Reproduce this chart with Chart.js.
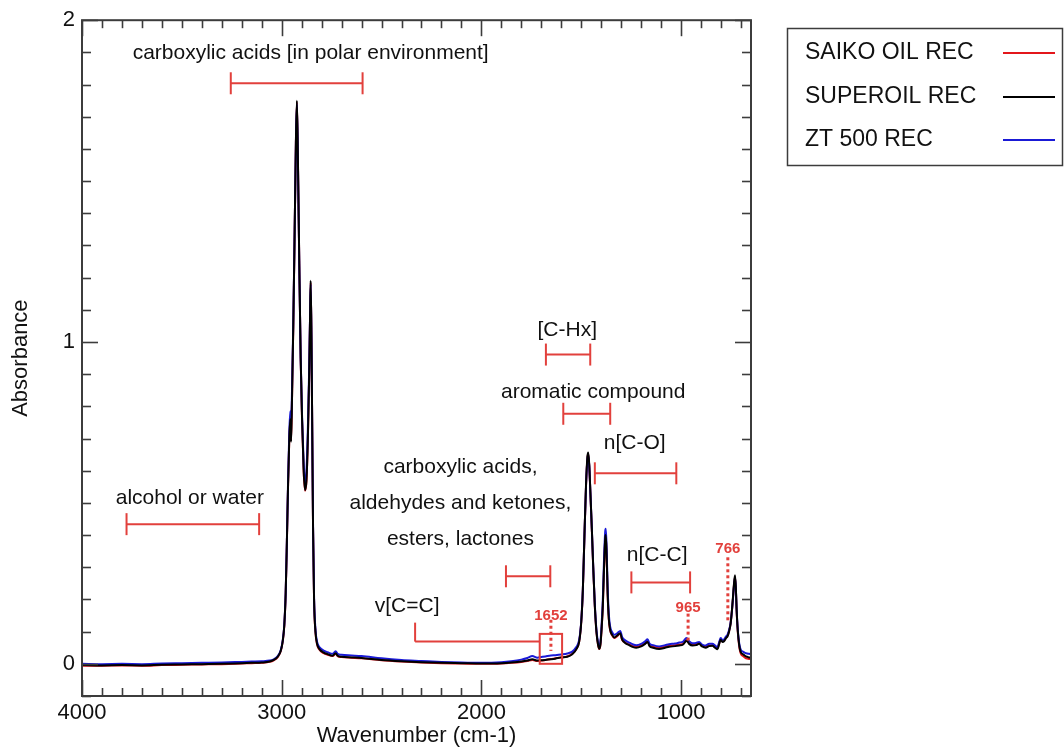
<!DOCTYPE html>
<html>
<head>
<meta charset="utf-8">
<script src="https://cdn.jsdelivr.net/npm/chart.js@4.4.0/dist/chart.umd.min.js"></script>
<style>
  html, body { margin: 0; padding: 0; background: #fff; }
  #wrap { width: 1064px; height: 756px; }
</style>
</head>
<body>
<div id="wrap"><canvas id="myChart" width="1064" height="756"></canvas></div>
<script>
// wavenumbers (cm-1), shared by all three spectra
const wavenumbers = [
  4000, 3900, 3800, 3700, 3600, 3500, 3400, 3300, 3200, 3150,
  3100, 3060, 3040, 3020, 3005, 2995, 2987, 2980, 2974, 2968,
  2962, 2957, 2953, 2949, 2942, 2935, 2929, 2924, 2919, 2912,
  2905, 2898, 2890, 2883, 2876, 2869, 2863, 2858, 2855, 2851,
  2847, 2843, 2838, 2831, 2822, 2810, 2790, 2770, 2745, 2730,
  2720, 2700, 2650, 2600, 2500, 2400, 2300, 2200, 2100, 2000,
  1900, 1850, 1800, 1770, 1745, 1720, 1700, 1680, 1652, 1630,
  1600, 1570, 1545, 1525, 1510, 1500, 1492, 1484, 1476, 1469,
  1465, 1460, 1454, 1447, 1440, 1432, 1424, 1416, 1410, 1404,
  1398, 1392, 1386, 1380, 1377, 1373, 1368, 1362, 1355, 1345,
  1335, 1320, 1305, 1295, 1280, 1260, 1240, 1225, 1200, 1180,
  1168, 1158, 1140, 1110, 1080, 1060, 1030, 1010, 990, 973,
  960, 943, 925, 910, 895, 877, 860, 843, 830, 818,
  810, 802, 793, 785, 775, 768, 760, 752, 745, 740,
  735, 730, 726, 722, 718, 713, 707, 700, 690, 680,
  670, 660, 650
];

// SAIKO OIL REC
const saikoOil = [
  -0.006, -0.006, -0.005, -0.006, -0.004, -0.003, -0.002, -0.001, 0.001, 0.002,
  0.003, 0.006, 0.011, 0.021, 0.039, 0.069, 0.118, 0.218, 0.378, 0.558,
  0.698, 0.755, 0.695, 0.800, 1.045, 1.345, 1.615, 1.745, 1.575, 1.245,
  0.945, 0.755, 0.598, 0.538, 0.568, 0.698, 0.878, 1.075, 1.185, 1.015,
  0.715, 0.418, 0.198, 0.098, 0.058, 0.043, 0.033, 0.028, 0.024, 0.031,
  0.024, 0.021, 0.019, 0.017, 0.011, 0.007, 0.004, 0.002, 0.001, 0.000,
  0.001, 0.003, 0.006, 0.009, 0.012, 0.009, 0.010, 0.012, 0.015, 0.017,
  0.020, 0.023, 0.031, 0.046, 0.071, 0.130, 0.228, 0.396, 0.555, 0.640,
  0.652, 0.616, 0.526, 0.416, 0.297, 0.178, 0.099, 0.059, 0.046, 0.059,
  0.108, 0.178, 0.296, 0.386, 0.396, 0.336, 0.218, 0.138, 0.103, 0.088,
  0.080, 0.086, 0.094, 0.074, 0.066, 0.060, 0.055, 0.053, 0.057, 0.064,
  0.070, 0.058, 0.053, 0.050, 0.053, 0.056, 0.058, 0.060, 0.062, 0.074,
  0.064, 0.060, 0.061, 0.064, 0.057, 0.053, 0.057, 0.058, 0.053, 0.049,
  0.062, 0.076, 0.070, 0.072, 0.082, 0.087, 0.101, 0.126, 0.168, 0.207,
  0.246, 0.270, 0.236, 0.166, 0.116, 0.076, 0.046, 0.030, 0.024, 0.019,
  0.016, 0.015, 0.015
];

// SUPEROIL REC
const superOil = [
  -0.004, -0.005, -0.004, -0.005, -0.003, -0.002, -0.001, 0.000, 0.002, 0.003,
  0.004, 0.007, 0.012, 0.022, 0.040, 0.070, 0.120, 0.220, 0.380, 0.560,
  0.700, 0.760, 0.690, 0.800, 1.050, 1.350, 1.620, 1.750, 1.580, 1.250,
  0.950, 0.760, 0.600, 0.540, 0.570, 0.700, 0.880, 1.080, 1.190, 1.020,
  0.720, 0.420, 0.200, 0.100, 0.060, 0.045, 0.035, 0.030, 0.025, 0.033,
  0.025, 0.022, 0.020, 0.018, 0.012, 0.008, 0.005, 0.003, 0.002, 0.001,
  0.002, 0.004, 0.007, 0.010, 0.014, 0.010, 0.011, 0.012, 0.014, 0.016,
  0.020, 0.022, 0.030, 0.045, 0.070, 0.130, 0.230, 0.400, 0.560, 0.645,
  0.657, 0.620, 0.530, 0.420, 0.300, 0.180, 0.100, 0.060, 0.047, 0.060,
  0.110, 0.180, 0.300, 0.390, 0.400, 0.340, 0.220, 0.140, 0.105, 0.090,
  0.082, 0.088, 0.095, 0.075, 0.065, 0.058, 0.052, 0.050, 0.054, 0.062,
  0.068, 0.055, 0.050, 0.046, 0.050, 0.053, 0.055, 0.057, 0.060, 0.072,
  0.062, 0.057, 0.058, 0.062, 0.054, 0.050, 0.055, 0.056, 0.050, 0.045,
  0.060, 0.075, 0.068, 0.070, 0.080, 0.085, 0.100, 0.125, 0.170, 0.210,
  0.250, 0.275, 0.240, 0.170, 0.120, 0.080, 0.050, 0.035, 0.030, 0.025,
  0.022, 0.020, 0.020
];

// ZT 500 REC
const zt500 = [
  0.000, -0.001, 0.000, -0.001, 0.001, 0.002, 0.003, 0.004, 0.006, 0.007,
  0.008, 0.010, 0.014, 0.024, 0.042, 0.072, 0.122, 0.222, 0.385, 0.570,
  0.720, 0.785, 0.750, 0.830, 1.060, 1.350, 1.610, 1.740, 1.570, 1.240,
  0.950, 0.770, 0.620, 0.560, 0.600, 0.730, 0.900, 1.080, 1.180, 1.010,
  0.720, 0.430, 0.210, 0.108, 0.066, 0.051, 0.041, 0.036, 0.031, 0.039,
  0.031, 0.028, 0.026, 0.024, 0.017, 0.012, 0.009, 0.006, 0.004, 0.003,
  0.005, 0.008, 0.013, 0.018, 0.024, 0.019, 0.021, 0.023, 0.026, 0.027,
  0.029, 0.032, 0.038, 0.052, 0.076, 0.134, 0.232, 0.398, 0.555, 0.638,
  0.650, 0.615, 0.528, 0.420, 0.302, 0.184, 0.106, 0.066, 0.053, 0.068,
  0.122, 0.200, 0.325, 0.412, 0.420, 0.362, 0.240, 0.155, 0.115, 0.098,
  0.090, 0.095, 0.102, 0.083, 0.073, 0.066, 0.060, 0.058, 0.062, 0.070,
  0.076, 0.063, 0.058, 0.054, 0.058, 0.061, 0.063, 0.066, 0.069, 0.080,
  0.070, 0.064, 0.065, 0.068, 0.060, 0.057, 0.062, 0.062, 0.057, 0.052,
  0.066, 0.080, 0.074, 0.076, 0.085, 0.090, 0.104, 0.128, 0.168, 0.205,
  0.244, 0.268, 0.236, 0.170, 0.122, 0.084, 0.056, 0.042, 0.038, 0.034,
  0.032, 0.031, 0.030
];

const xTicks = [4000, 3000, 2000, 1000];
const yTicks = [0, 1, 2];

// band assignments: range in cm-1, bar height in absorbance, label position
const bands = [
  { text: ['carboxylic acids [in polar environment]'], from: 3255, to: 2595, at: 1.804, tx: 2855, ty: 1.897 },
  { text: ['alcohol or water'], from: 3777, to: 3113, at: 0.434, tx: 3460, ty: 0.516 },
  { text: ['[C-Hx]'], from: 1677, to: 1455, at: 0.961, tx: 1570, ty: 1.036 },
  { text: ['aromatic compound'], from: 1590, to: 1355, at: 0.777, tx: 1440, ty: 0.844 },
  { text: ['n[C-O]'], from: 1432, to: 1024, at: 0.592, tx: 1232, ty: 0.684 },
  { text: ['n[C-C]'], from: 1249, to: 955, at: 0.253, tx: 1120, ty: 0.339 },
  { text: ['carboxylic acids,', 'aldehydes and ketones,', 'esters, lactones'], from: 1877, to: 1655, at: 0.272, tx: 2105, ty: 0.61 }
];

// marked peaks
const peaks = [
  { label: '1652', wn: 1652, top: 0.137, bottom: 0.04, ty: 0.149 },
  { label: '965', wn: 965, top: 0.156, bottom: 0.066, ty: 0.175 },
  { label: '766', wn: 766, top: 0.331, bottom: 0.128, ty: 0.357 }
];

const FONT = '"Liberation Sans", Arial, sans-serif';
const RED = '#e2403c';
const AXIS = '#3c3c3c';

function toPoints(ys) {
  return wavenumbers.map((w, i) => ({ x: w, y: ys[i] }));
}

function seg(ctx, x1, y1, x2, y2) {
  ctx.beginPath();
  ctx.moveTo(x1, y1);
  ctx.lineTo(x2, y2);
  ctx.stroke();
}

// frame, inward ticks and the band annotations
const decorations = {
  id: 'decorations',
  afterDatasetsDraw(chart) {
    const { ctx, chartArea: a, scales: { x, y } } = chart;
    ctx.save();

    // ticks on all four sides
    ctx.strokeStyle = AXIS;
    ctx.lineWidth = 1.6;
    for (let w = 700; w <= 4000; w += 100) {
      const px = Math.round(x.getPixelForValue(w)) + 0.5;
      const len = w % 1000 === 0 ? 16 : 8;
      seg(ctx, px, a.bottom, px, a.bottom - len);
      seg(ctx, px, a.top, px, a.top + len);
    }
    for (let i = -1; i <= 20; i++) {
      const py = Math.round(y.getPixelForValue(i / 10)) + 0.5;
      const len = i % 10 === 0 ? 16 : 9;
      seg(ctx, a.left, py, a.left + len, py);
      seg(ctx, a.right, py, a.right - len, py);
    }
    ctx.lineWidth = 2;
    ctx.strokeRect(a.left, a.top, a.right - a.left, a.bottom - a.top);

    // band ranges
    ctx.strokeStyle = RED;
    ctx.lineWidth = 2;
    ctx.fillStyle = '#111';
    ctx.font = '21px ' + FONT;
    ctx.textAlign = 'center';
    ctx.textBaseline = 'middle';
    bands.forEach(b => {
      const x1 = x.getPixelForValue(b.from), x2 = x.getPixelForValue(b.to);
      const py = y.getPixelForValue(b.at);
      seg(ctx, x1, py, x2, py);
      seg(ctx, x1, py - 11, x1, py + 11);
      seg(ctx, x2, py - 11, x2, py + 11);
      const tx = x.getPixelForValue(b.tx);
      const ty = y.getPixelForValue(b.ty);
      b.text.forEach((t, i) => ctx.fillText(t, tx, ty + i * 36));
    });

    // v[C=C] bracket leading into the box around 1652
    const boxL = x.getPixelForValue(1708), boxR = x.getPixelForValue(1596);
    const boxT = y.getPixelForValue(0.093), boxB = y.getPixelForValue(0);
    const ccX = x.getPixelForValue(2332), ccY = y.getPixelForValue(0.069);
    seg(ctx, ccX, ccY, boxL, ccY);
    seg(ctx, ccX, ccY, ccX, y.getPixelForValue(0.128));
    ctx.strokeRect(boxL, boxT, boxR - boxL, boxB - boxT);
    ctx.fillText('v[C=C]', x.getPixelForValue(2372), y.getPixelForValue(0.18));

    // peak markers
    ctx.lineWidth = 3;
    ctx.setLineDash([3, 3]);
    ctx.fillStyle = RED;
    ctx.font = 'bold 15px ' + FONT;
    peaks.forEach(p => {
      const px = x.getPixelForValue(p.wn);
      seg(ctx, px, y.getPixelForValue(p.top), px, y.getPixelForValue(p.bottom));
      ctx.fillText(p.label, px, y.getPixelForValue(p.ty));
    });
    ctx.restore();
  },
  afterDraw(chart) {
    // legend box on the right
    const { ctx } = chart;
    const rows = [
      { name: 'SAIKO OIL REC', color: '#e3161b', y: 53 },
      { name: 'SUPEROIL REC', color: '#000000', y: 97 },
      { name: 'ZT 500 REC', color: '#1a1ad6', y: 140 }
    ];
    ctx.save();
    ctx.strokeStyle = AXIS;
    ctx.lineWidth = 1.5;
    ctx.strokeRect(787.5, 28.5, 275, 137);
    ctx.font = '23px ' + FONT;
    ctx.textBaseline = 'middle';
    ctx.fillStyle = '#111';
    rows.forEach(r => {
      ctx.fillText(r.name, 805, r.y);
      ctx.strokeStyle = r.color;
      ctx.lineWidth = 2;
      seg(ctx, 1003, r.y, 1055, r.y);
    });
    ctx.restore();
  }
};

Chart.defaults.font.family = FONT;
Chart.defaults.color = '#111';

new Chart(document.getElementById('myChart'), {
  type: 'line',
  data: {
    datasets: [
      { label: 'SUPEROIL REC', data: toPoints(superOil), borderColor: '#000000', order: 0 },
      { label: 'ZT 500 REC', data: toPoints(zt500), borderColor: '#1a1ad6', order: 1 },
      { label: 'SAIKO OIL REC', data: toPoints(saikoOil), borderColor: '#e3161b', order: 2 }
    ]
  },
  options: {
    responsive: false,
    animation: false,
    parsing: false,
    layout: { padding: { top: 20, right: 313, bottom: 0, left: 0 } },
    elements: {
      point: { radius: 0 },
      line: { borderWidth: 2, cubicInterpolationMode: 'monotone', fill: false }
    },
    plugins: { legend: { display: false }, tooltip: { enabled: false } },
    scales: {
      x: {
        type: 'linear',
        reverse: true,
        min: 650,
        max: 4000,
        grid: { display: false, drawTicks: false },
        border: { display: false },
        afterBuildTicks: s => { s.ticks = xTicks.map(v => ({ value: v })); },
        afterFit: s => { s.height = 60; },
        ticks: { padding: 4, font: { size: 22 }, color: '#111', callback: v => String(v) },
        title: { display: true, text: 'Wavenumber (cm-1)', font: { size: 22 }, color: '#111', padding: { top: 0, bottom: 7 } }
      },
      y: {
        type: 'linear',
        min: -0.1,
        max: 2,
        grid: { display: false, drawTicks: false },
        border: { display: false },
        afterBuildTicks: s => { s.ticks = yTicks.map(v => ({ value: v })); },
        afterFit: s => { s.width = 82; },
        ticks: { padding: 7, font: { size: 22 }, color: '#111', callback: v => String(v) },
        title: { display: true, text: 'Absorbance', font: { size: 22 }, color: '#111', padding: { top: 8, bottom: 0 } }
      }
    }
  },
  plugins: [decorations]
});
</script>
</body>
</html>
